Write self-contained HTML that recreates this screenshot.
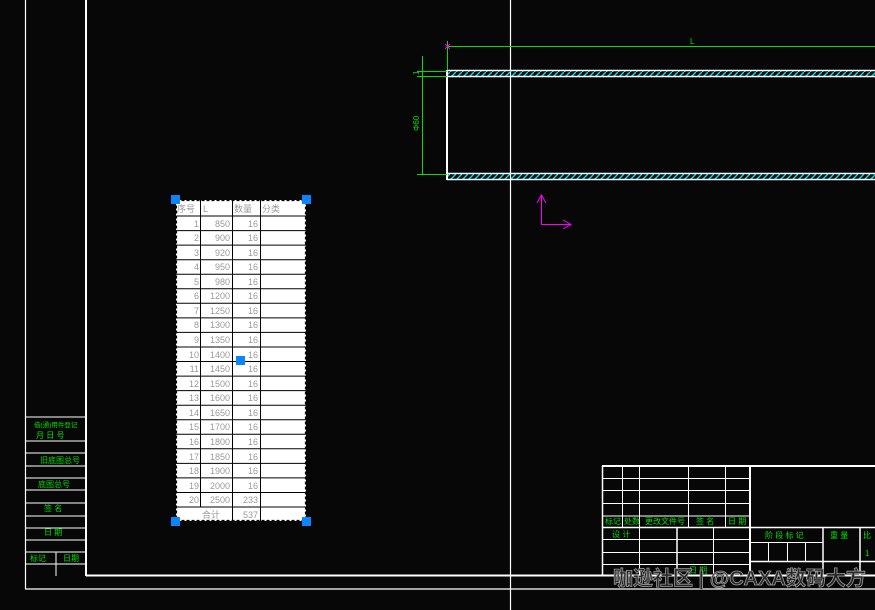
<!DOCTYPE html>
<html><head><meta charset="utf-8">
<style>
html,body{margin:0;padding:0;background:#070707;}
svg{display:block;}
.g{fill:#00e000;font-family:"Liberation Sans","Noto Sans CJK SC",sans-serif;font-size:8px;}
.t{fill:#9a9a9a;font-family:"Liberation Sans","Noto Sans CJK SC",sans-serif;font-size:9px;}
</style></head><body>
<svg width="875" height="610" viewBox="0 0 875 610" xmlns="http://www.w3.org/2000/svg">
<defs>
<pattern id="h" width="6" height="6" patternUnits="userSpaceOnUse">
<line x1="0" y1="6" x2="6" y2="0" stroke="#00e0f0" stroke-width="1.4"/>
</pattern>
</defs>
<rect width="875" height="610" fill="#070707"/>
<g stroke="#fff" fill="none">
<line x1="25.5" y1="0" x2="25.5" y2="589" stroke-width="1.2"/>
<line x1="86" y1="0" x2="86" y2="576" stroke-width="2"/>
<line x1="86" y1="575.5" x2="875" y2="575.5" stroke-width="2"/>
<line x1="25" y1="589" x2="875" y2="589" stroke-width="1.2"/>
<line x1="510.5" y1="0" x2="510.5" y2="610" stroke-width="1.2"/>
<g stroke-width="1">
<line x1="25" y1="417" x2="86" y2="417"/>
<line x1="25" y1="441" x2="86" y2="441"/>
<line x1="25" y1="453" x2="86" y2="453"/>
<line x1="25" y1="466" x2="86" y2="466"/>
<line x1="25" y1="478" x2="86" y2="478"/>
<line x1="25" y1="490" x2="86" y2="490"/>
<line x1="25" y1="503" x2="86" y2="503"/>
<line x1="25" y1="516" x2="86" y2="516"/>
<line x1="25" y1="528" x2="86" y2="528"/>
<line x1="25" y1="540" x2="86" y2="540"/>
<line x1="25" y1="552" x2="86" y2="552"/>
<line x1="25" y1="564" x2="86" y2="564"/>
<line x1="56" y1="552" x2="56" y2="576"/>
</g>
</g>
<g class="g" font-size="7">
<text x="34" y="427" font-size="6.5">借(通)用件登记</text>
<text x="36" y="438">月  日  号</text>
<text x="40" y="463">旧底图总号</text>
<text x="38" y="487">底图总号</text>
<text x="44" y="511">签  名</text>
<text x="44" y="535">日  期</text>
<text x="30" y="561">标记</text><text x="63" y="561">日期</text>
</g>
<rect x="447" y="70" width="428" height="6.5" fill="url(#h)"/>
<rect x="447" y="173" width="428" height="6.5" fill="url(#h)"/>
<g stroke="#fff" stroke-width="1.5" fill="none">
<line x1="447" y1="70.5" x2="875" y2="70.5"/>
<line x1="447" y1="76.5" x2="875" y2="76.5"/>
<line x1="447" y1="173.5" x2="875" y2="173.5"/>
<line x1="447" y1="179.5" x2="875" y2="179.5"/>
<line x1="447" y1="70" x2="447" y2="180" stroke-width="2"/>
</g>
<g stroke="#00e000" stroke-width="1" fill="none">
<line x1="447" y1="46.5" x2="875" y2="46.5"/>
<line x1="447.5" y1="41" x2="447.5" y2="70"/>
<line x1="422.5" y1="56" x2="422.5" y2="174"/>
<line x1="417" y1="71.5" x2="447" y2="71.5"/>
<line x1="417" y1="76.5" x2="447" y2="76.5"/>
<line x1="417" y1="174.5" x2="447" y2="174.5"/>
</g>
<text x="690" y="44" class="g">L</text>
<text class="g" transform="translate(419,131) rotate(-90)">Φ60</text>
<text class="g" transform="translate(419,75) rotate(-90)">1</text>
<g stroke="#ff00ff" stroke-width="1" fill="none">
<line x1="541.5" y1="195" x2="541.5" y2="225"/>
<line x1="541" y1="224.5" x2="571" y2="224.5"/>
<polyline points="537,203 541.5,195 546,203"/>
<polyline points="563,220 571,224.5 563,229"/>
<line x1="445" y1="44" x2="450" y2="49"/><line x1="450" y1="44" x2="445" y2="49"/>
</g>
<rect x="176" y="200" width="130" height="321" fill="#fff"/>
<g stroke="#000" stroke-width="1">
<line x1="200.5" y1="200" x2="200.5" y2="507"/>
<line x1="232.5" y1="200" x2="232.5" y2="521"/>
<line x1="260.5" y1="200" x2="260.5" y2="521"/>
<line x1="176" y1="216" x2="306" y2="216"/><line x1="176" y1="230.6" x2="306" y2="230.6"/><line x1="176" y1="245.1" x2="306" y2="245.1"/><line x1="176" y1="259.7" x2="306" y2="259.7"/><line x1="176" y1="274.2" x2="306" y2="274.2"/><line x1="176" y1="288.8" x2="306" y2="288.8"/><line x1="176" y1="303.3" x2="306" y2="303.3"/><line x1="176" y1="317.9" x2="306" y2="317.9"/><line x1="176" y1="332.4" x2="306" y2="332.4"/><line x1="176" y1="347" x2="306" y2="347"/><line x1="176" y1="361.5" x2="306" y2="361.5"/><line x1="176" y1="376.1" x2="306" y2="376.1"/><line x1="176" y1="390.6" x2="306" y2="390.6"/><line x1="176" y1="405.2" x2="306" y2="405.2"/><line x1="176" y1="419.7" x2="306" y2="419.7"/><line x1="176" y1="434.3" x2="306" y2="434.3"/><line x1="176" y1="448.8" x2="306" y2="448.8"/><line x1="176" y1="463.4" x2="306" y2="463.4"/><line x1="176" y1="477.9" x2="306" y2="477.9"/><line x1="176" y1="492.5" x2="306" y2="492.5"/><line x1="176" y1="507" x2="306" y2="507"/>
</g>
<rect x="176.5" y="200.5" width="129" height="320" fill="none" stroke="#000" stroke-width="1.2" stroke-dasharray="3,2"/>
<g class="t">
<text x="177" y="212">序号</text><text x="203" y="212">L</text><text x="234" y="212">数量</text><text x="262" y="212">分类</text>
</g>
<g class="t" text-anchor="end">
<text x="199" y="227">1</text><text x="230" y="227">850</text><text x="258" y="227">16</text>
<text x="199" y="241">2</text><text x="230" y="241">900</text><text x="258" y="241">16</text>
<text x="199" y="256">3</text><text x="230" y="256">920</text><text x="258" y="256">16</text>
<text x="199" y="270">4</text><text x="230" y="270">950</text><text x="258" y="270">16</text>
<text x="199" y="285">5</text><text x="230" y="285">980</text><text x="258" y="285">16</text>
<text x="199" y="299">6</text><text x="230" y="299">1200</text><text x="258" y="299">16</text>
<text x="199" y="314">7</text><text x="230" y="314">1250</text><text x="258" y="314">16</text>
<text x="199" y="328">8</text><text x="230" y="328">1300</text><text x="258" y="328">16</text>
<text x="199" y="343">9</text><text x="230" y="343">1350</text><text x="258" y="343">16</text>
<text x="199" y="358">10</text><text x="230" y="358">1400</text><text x="258" y="358">16</text>
<text x="199" y="372">11</text><text x="230" y="372">1450</text><text x="258" y="372">16</text>
<text x="199" y="387">12</text><text x="230" y="387">1500</text><text x="258" y="387">16</text>
<text x="199" y="401">13</text><text x="230" y="401">1600</text><text x="258" y="401">16</text>
<text x="199" y="416">14</text><text x="230" y="416">1650</text><text x="258" y="416">16</text>
<text x="199" y="430">15</text><text x="230" y="430">1700</text><text x="258" y="430">16</text>
<text x="199" y="445">16</text><text x="230" y="445">1800</text><text x="258" y="445">16</text>
<text x="199" y="460">17</text><text x="230" y="460">1850</text><text x="258" y="460">16</text>
<text x="199" y="474">18</text><text x="230" y="474">1900</text><text x="258" y="474">16</text>
<text x="199" y="489">19</text><text x="230" y="489">2000</text><text x="258" y="489">16</text>
<text x="199" y="503">20</text><text x="230" y="503">2500</text><text x="258" y="503">233</text>
<text x="258" y="518">537</text>
</g>
<text x="202" y="518" class="t">合计</text>
<g fill="#0a84ff">
<rect x="171" y="195" width="9" height="9"/><rect x="302" y="195" width="9" height="9"/>
<rect x="171" y="517" width="9" height="9"/><rect x="302" y="517" width="9" height="9"/>
<rect x="236" y="356" width="9" height="9"/>
</g>
<g stroke="#fff" fill="none">
<line x1="602" y1="466" x2="875" y2="466" stroke-width="2"/>
<line x1="602.5" y1="466" x2="602.5" y2="576" stroke-width="1.5"/>
<line x1="750" y1="466" x2="750" y2="576" stroke-width="2"/>
<g stroke-width="1">
<line x1="602" y1="478.5" x2="750" y2="478.5"/>
<line x1="602" y1="490.5" x2="750" y2="490.5"/>
<line x1="602" y1="503.5" x2="750" y2="503.5"/>
<line x1="602" y1="516" x2="750" y2="516"/>
<line x1="622.5" y1="466" x2="622.5" y2="527"/>
<line x1="639.5" y1="466" x2="639.5" y2="576"/>
<line x1="688.5" y1="466" x2="688.5" y2="527"/>
<line x1="725.5" y1="466" x2="725.5" y2="527"/>
<line x1="602" y1="539.5" x2="750" y2="539.5"/>
<line x1="602" y1="552.5" x2="750" y2="552.5"/>
<line x1="602" y1="564.5" x2="750" y2="564.5"/>
<line x1="713.5" y1="527" x2="713.5" y2="576"/>
<line x1="750" y1="542.5" x2="823" y2="542.5"/>
<line x1="768.5" y1="542" x2="768.5" y2="561"/>
<line x1="787.5" y1="542" x2="787.5" y2="561"/>
<line x1="805.5" y1="542" x2="805.5" y2="561"/>
</g>
<line x1="602" y1="527.5" x2="875" y2="527.5" stroke-width="1.5"/>
<line x1="677" y1="527" x2="677" y2="576" stroke-width="1.5"/>
<line x1="750" y1="561.5" x2="875" y2="561.5" stroke-width="1.5"/>
<line x1="823" y1="527" x2="823" y2="576" stroke-width="1.5"/>
<line x1="860" y1="527" x2="860" y2="576" stroke-width="1.5"/>
</g>
<g class="g" font-size="7">
<text x="605" y="524">标记</text><text x="624" y="524">处数</text><text x="645" y="524">更改文件号</text><text x="696" y="524">签  名</text><text x="728" y="524">日 期</text>
<text x="612" y="537">设  计</text>
<text x="765" y="538">阶 段 标 记</text><text x="830" y="538">重 量</text><text x="863" y="538">比</text>
<text x="689" y="573">日 期</text><text x="865" y="556">1</text>
</g>
<text x="613" y="585" font-family="Liberation Sans,Noto Sans CJK SC,sans-serif" font-size="20" font-weight="bold" fill="#262626" stroke="#9a9a9a" stroke-width="0.8">咖逊社区 | @CAXA数码大方</text>
</svg>
</body></html>
